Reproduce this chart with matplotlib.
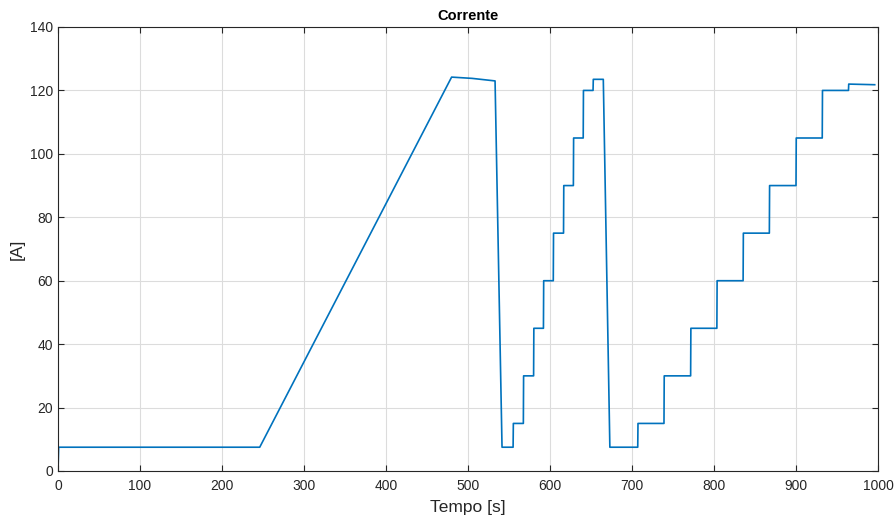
import matplotlib
matplotlib.use("Agg")
import matplotlib.pyplot as plt

plt.rcParams['font.family'] = ['Liberation Sans', 'DejaVu Sans']

# Breakpoints of the current profile (time in s, current in A)
time_s = [0, 0.8, 246, 480, 505, 533, 541.5,
          555, 555.3, 567.5, 567.8, 580, 580.3, 592, 592.3, 604, 604.3,
          616.5, 616.8, 628.5, 628.8, 640.5, 640.8, 652.5, 652.8, 665, 673,
          707, 707.3, 739, 739.3, 771.5, 771.8, 803.5, 803.8, 835.5, 835.8,
          867.5, 867.8, 900, 900.3, 932, 932.3, 964, 964.3, 996]
current_A = [0, 7.5, 7.5, 124.2, 123.8, 123.0, 7.5,
             7.5, 15, 15, 30, 30, 45, 45, 60, 60, 75,
             75, 90, 90, 105, 105, 120, 120, 123.5, 123.5, 7.5,
             7.5, 15, 15, 30, 30, 45, 45, 60, 60, 75,
             75, 90, 90, 105, 105, 120, 120, 122, 121.8]

xticks = [0, 100, 200, 300, 400, 500, 600, 700, 800, 900, 1000]
yticks = [0, 20, 40, 60, 80, 100, 120, 140]

fig = plt.figure(figsize=(8.95, 5.2), dpi=100)
ax = fig.add_axes([58/895, 49/520, 820/895, 444/520])
ax.plot(time_s, current_A, color='#0072BD', linewidth=1.2)
ax.set_xlim(0, 1000)
ax.set_ylim(0, 140)
ax.set_xticks(xticks)
ax.set_yticks(yticks)
ax.grid(True, color='#dcdcdc', linewidth=0.8)
ax.set_axisbelow(True)
ax.tick_params(direction='in', top=True, right=True, labelsize=10, colors='#262626', length=4)
ax.tick_params(axis='x', pad=6)
for s in ax.spines.values():
    s.set_color('#262626')
    s.set_linewidth(0.8)
ax.set_title('Corrente', fontsize=10.5, fontweight='bold', pad=5)
ax.set_xlabel('Tempo [s]', fontsize=12.5, color='#262626', labelpad=5)
ax.set_ylabel('[A]', fontsize=12.5, color='#262626', labelpad=4)
fig.savefig('out.png', dpi=100)
